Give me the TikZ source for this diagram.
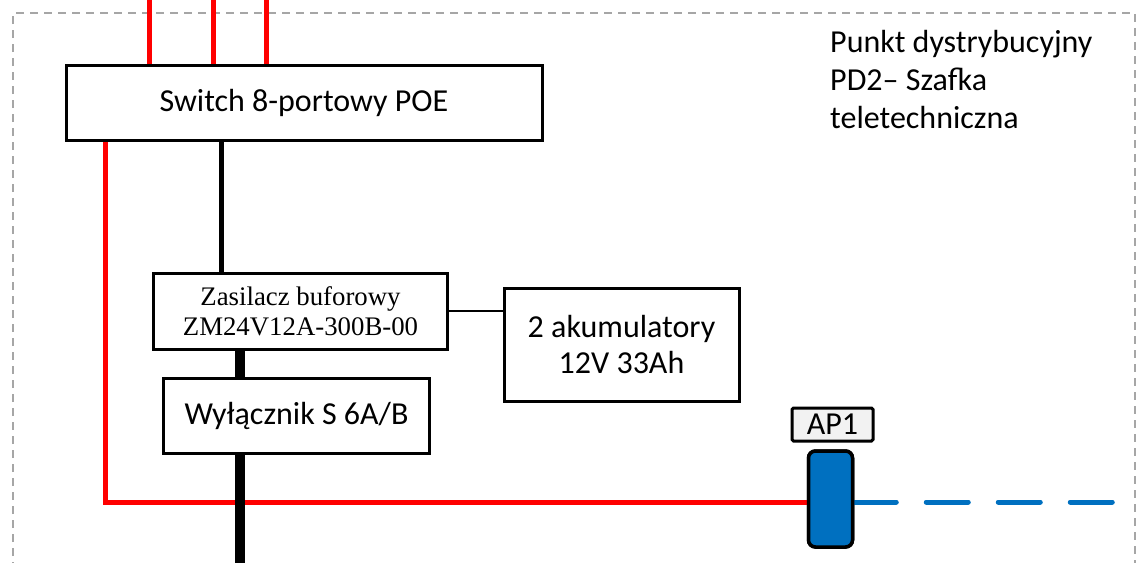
\documentclass[tikz,border=0pt]{standalone}
\usepackage{fontspec}
\setmainfont{Carlito}
\newfontfamily\timesf{Liberation Serif}
\definecolor{apblue}{HTML}{0070C0}
\definecolor{redw}{HTML}{FF0000}
\definecolor{lgray}{HTML}{F2F2F2}
\definecolor{bordergray}{HTML}{A6A6A6}
\begin{document}
\begin{tikzpicture}[x=1pt,y=-1pt,
  box/.style={draw=black,line width=3pt,fill=white,inner sep=0pt,align=center,font=\fontsize{32}{36}\selectfont},
  zasfont/.style={font=\timesf\fontsize{26.8}{30}\selectfont},
  apbox/.style={draw=black,line width=3.5pt,fill=apblue,rounded corners=7pt,minimum width=44pt,minimum height=96pt,inner sep=0pt},
  redline/.style={draw=redw,line width=5pt},
  blkline/.style={draw=black,line width=5pt},
  thickblk/.style={draw=black,line width=10pt},
  thinline/.style={draw=black,line width=1.5pt},
  blueline/.style={draw=apblue,line width=5pt,line cap=round,dash pattern=on 42pt off 30pt}]
\useasboundingbox (0,0) rectangle (1139,562);
% dashed border
\draw[bordergray,line width=1.5pt,dash pattern=on 8pt off 6pt] (13,570) -- (13,13) -- (1135,13) -- (1135,570);
% coordinates
\coordinate (t1) at (149,-5);
\coordinate (t2) at (213,-5);
\coordinate (t3) at (266,-5);
\coordinate (bot) at (240,570);
% nodes
\node[box,minimum width=476pt,minimum height=75pt] (sw) at (304,102.5) {Switch 8-portowy POE};
\node[box,minimum width=294pt,minimum height=76pt,zasfont] (zas) at (300.5,311) {Zasilacz buforowy\\ZM24V12A-300B-00};
\node[box,minimum width=266pt,minimum height=75pt] (wyl) at (296.5,415.5) {Wyłącznik S 6A/B};
\node[box,minimum width=235pt,minimum height=113pt] (aku) at (621.5,344.5) {2 akumulatory\\12V 33Ah};
\node[draw=black,line width=3pt,fill=lgray,inner sep=0pt,minimum width=81pt,minimum height=33pt,font=\fontsize{32}{36}\selectfont,rounded corners=1.5pt] (aplbl) at (832.5,424.5) {AP1};
\node[apbox] (ap) at (830.5,499) {};
\node[align=left,anchor=north west,inner sep=0pt,font=\fontsize{32}{38}\selectfont] (lbl) at (830,30) {Punkt dystrybucyjny\\PD2– Szafka\\teletechniczna};
\coordinate (bend) at (105,502);
\coordinate (blueend) at (1117,502);
% connectors
\draw[redline] (t1) -- (t1 |- sw.north);
\draw[redline] (t2) -- (t2 |- sw.north);
\draw[redline] (t3) -- (t3 |- sw.north);
\draw[redline] (bend |- sw.south) -- (bend) -- (bend -| ap.west);
\draw[blkline] (221,140) -- (221,274);
\draw[thickblk] (bot |- zas.south) -- (bot |- wyl.north);
\draw[thickblk] (bot |- wyl.south) -- (bot);
\draw[thinline] (zas.east |- 0,311) -- (aku.west |- 0,311);
\draw[blueline] (ap.east |- blueend) -- (blueend);
% redraw boxes on top of line ends
\node[box,minimum width=476pt,minimum height=75pt] at (304,102.5) {Switch 8-portowy POE};
\node[box,minimum width=294pt,minimum height=76pt,zasfont] at (300.5,311) {Zasilacz buforowy\\ZM24V12A-300B-00};
\node[box,minimum width=266pt,minimum height=75pt] at (296.5,415.5) {Wyłącznik S 6A/B};
\node[apbox] at (830.5,499) {};
\end{tikzpicture}
\end{document}
